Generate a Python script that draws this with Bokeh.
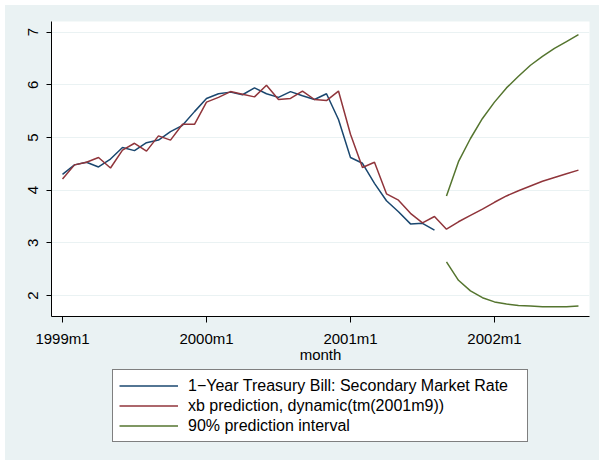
from bokeh.plotting import figure
from bokeh.layouts import column
from bokeh.models import FixedTicker, Legend, LegendItem, Range1d
from bokeh.embed import file_html
from bokeh.resources import INLINE

# month index: 0 = 1999m1
rate_months = list(range(0, 32))
rate = [4.30, 4.48, 4.53, 4.44, 4.59, 4.81, 4.75, 4.90, 4.95, 5.11, 5.23, 5.49,
        5.74, 5.83, 5.86, 5.81, 5.94, 5.83, 5.76, 5.87, 5.79, 5.72, 5.83, 5.34,
        4.62, 4.51, 4.13, 3.80, 3.59, 3.36, 3.37, 3.24]

xb_months = list(range(0, 44))
xb = [4.21, 4.48, 4.53, 4.62, 4.42, 4.76, 4.89, 4.74, 5.03, 4.95, 5.25, 5.25,
      5.67, 5.76, 5.87, 5.82, 5.77, 5.99, 5.72, 5.74, 5.88, 5.72, 5.70, 5.88,
      5.06, 4.43, 4.53, 3.93, 3.81, 3.56, 3.38, 3.50, 3.26, 3.40, 3.52, 3.64,
      3.77, 3.89, 3.99, 4.08, 4.17, 4.24, 4.31, 4.38]

pi_months = list(range(32, 44))
upper = [3.89, 4.54, 4.98, 5.36, 5.67, 5.94, 6.16, 6.37, 6.54, 6.69, 6.82, 6.95]
lower = [2.64, 2.29, 2.09, 1.96, 1.88, 1.84, 1.81, 1.80, 1.79, 1.79, 1.79, 1.80]

x_ticks = [0, 12, 24, 36]
x_tick_labels = ["1999m1", "2000m1", "2001m1", "2002m1"]
y_ticks = [2, 3, 4, 5, 6, 7]

label_names = ["1\u2212Year Treasury Bill: Secondary Market Rate",
               "xb prediction, dynamic(tm(2001m9))",
               "90% prediction interval"]

NAVY = "#1a476f"
MAROON = "#90353b"
GREEN = "#55752f"
BG = "#eaf2f3"
FONT = "Liberation Sans"
FS = "15px"

p = figure(width=594, height=360, output_backend="svg", toolbar_location=None,
           x_range=Range1d(-0.917, 43.92), y_range=Range1d(1.603, 7.20),
           min_border_left=46, min_border_top=16, min_border_right=10,
           min_border_bottom=48)
p.background_fill_color = "white"
p.border_fill_color = BG
p.outline_line_color = None

p.line(rate_months, rate, line_color=NAVY, line_width=1.5)
p.line(xb_months, xb, line_color=MAROON, line_width=1.5)
p.line(pi_months, upper, line_color=GREEN, line_width=1.5)
p.line(pi_months, lower, line_color=GREEN, line_width=1.5)

p.xgrid.visible = False
p.ygrid.grid_line_color = BG
p.ygrid.grid_line_width = 1.2

xa = p.xaxis[0]
xa.ticker = FixedTicker(ticks=x_ticks)
xa.major_label_overrides = {t: l for t, l in zip(x_ticks, x_tick_labels)}
xa.axis_label = "month"
xa.axis_label_text_font = FONT
xa.axis_label_text_font_size = FS
xa.axis_label_text_font_style = "normal"
xa.axis_label_text_color = "black"
xa.axis_label_standoff = -4
xa.major_label_text_font = FONT
xa.major_label_text_font_size = FS
xa.major_label_text_color = "black"
xa.major_label_standoff = 7
xa.major_tick_out = 6
xa.major_tick_in = 0
xa.minor_tick_out = 0
xa.minor_tick_in = 0
xa.axis_line_color = "black"
xa.major_tick_line_color = "black"

ya = p.yaxis[0]
ya.ticker = FixedTicker(ticks=y_ticks)
ya.major_label_orientation = "vertical"
ya.major_label_text_font = FONT
ya.major_label_text_font_size = FS
ya.major_label_text_color = "black"
ya.major_label_standoff = 8
ya.major_tick_out = 5
ya.major_tick_in = 0
ya.minor_tick_out = 0
ya.minor_tick_in = 0
ya.axis_line_color = "black"
ya.major_tick_line_color = "black"

# legend panel below the chart; its proxy lines use the series but lie
# outside this panel's ranges, so only their legend swatches show
q = figure(width=594, height=96, output_backend="svg", toolbar_location=None,
           x_axis_type=None, y_axis_type=None,
           x_range=Range1d(1000, 1001), y_range=Range1d(1000, 1001),
           min_border_left=0, min_border_right=0, min_border_top=0,
           min_border_bottom=0)
q.background_fill_color = BG
q.border_fill_color = BG
q.outline_line_color = None
q.xgrid.visible = False
q.ygrid.visible = False
g1 = q.line(rate_months, rate, line_color=NAVY, line_width=1.5)
g2 = q.line(xb_months, xb, line_color=MAROON, line_width=1.5)
g3 = q.line(pi_months, upper, line_color=GREEN, line_width=1.5)

legend = Legend(items=[LegendItem(label=n, renderers=[r])
                       for n, r in zip(label_names, [g1, g2, g3])],
                location=(61, 19))
legend.label_text_font = FONT
legend.label_text_font_size = "16px"
legend.label_text_color = "black"
legend.glyph_width = 59
legend.glyph_height = 19
legend.label_height = 19
legend.label_standoff = 10
legend.label_width = 333
legend.spacing = 1
legend.padding = 6
legend.margin = 0
legend.border_line_color = "black"
legend.border_line_width = 1
legend.background_fill_color = "white"
legend.background_fill_alpha = 1
q.add_layout(legend, "center")

layout = column(p, q, spacing=-1, margin=(5, 0, 0, 5),
                styles={"background-color": BG})
open("out.html", "w").write(file_html(layout, INLINE))
